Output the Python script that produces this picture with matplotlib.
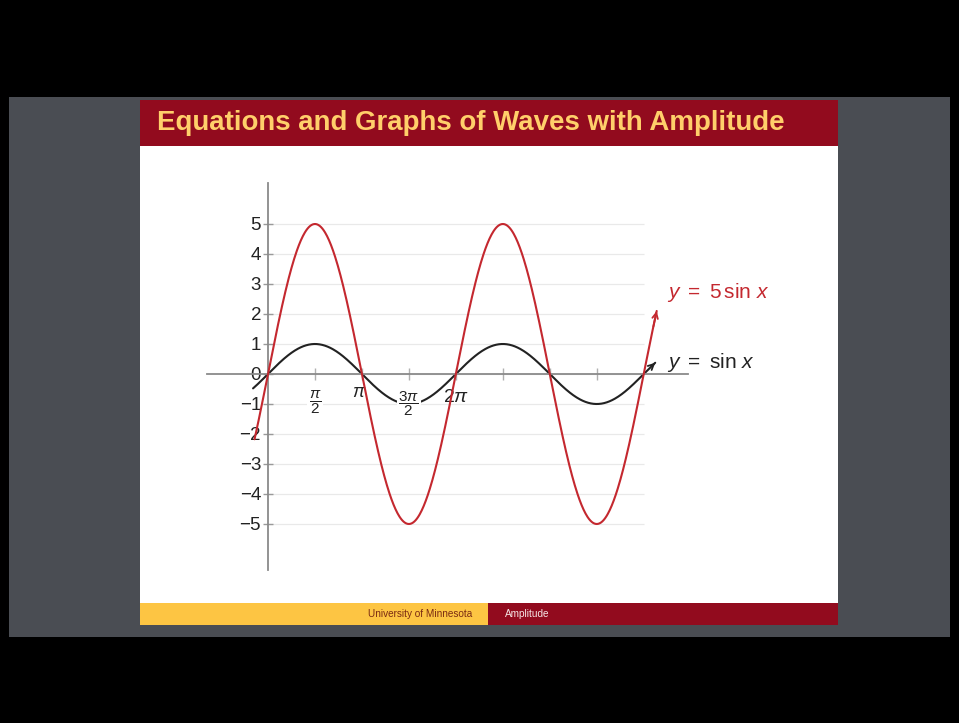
import numpy as np
import matplotlib
matplotlib.use("Agg")
import matplotlib.pyplot as plt
from matplotlib.patches import Rectangle

plt.rcParams["font.family"] = ["Liberation Sans", "DejaVu Sans"]
plt.rcParams["mathtext.fontset"] = "custom"
plt.rcParams["mathtext.rm"] = "Liberation Sans"
plt.rcParams["mathtext.it"] = "Liberation Sans:italic"
plt.rcParams["mathtext.sf"] = "Liberation Sans"

# curves: y = A sin x, each drawn from x_start to x_end (radians)
amplitudes = [1, 5]
x_start = [-0.5, -0.45]
x_end = [12.95, 13.0]
curve_colors = ["#222222", "#c4282f"]
curve_labels = [r"$y\ =\ \sin\,x$", r"$y\ =\ 5\,\sin\,x$"]
label_pos = [(13.34, 0.37), (13.34, 2.7)]

y_ticks = [-5, -4, -3, -2, -1, 0, 1, 2, 3, 4, 5]
x_ticks = [np.pi / 2 * k for k in range(1, 8)]
x_tick_labels = [r"$\dfrac{\pi}{2}$", r"$\pi$", r"$\dfrac{3\pi}{2}$", r"$2\pi$"]
x_label_pos = [(np.pi / 2, -0.95), (3.05, -0.62), (3 * np.pi / 2, -1.0), (6.28, -0.78)]
x_label_size = [11, 13, 11, 14]
x_label_box = [True, False, True, False]

W, H = 959, 723
fig = plt.figure(figsize=(W / 100, H / 100), dpi=100)
fig.patch.set_facecolor("black")


def px_rect(x0, y0, x1, y1, color):
    # rectangle given in pixel coords (origin top-left)
    fig.patches.append(Rectangle((x0 / W, 1 - y1 / H), (x1 - x0) / W, (y1 - y0) / H,
                                 transform=fig.transFigure, facecolor=color,
                                 edgecolor="none", zorder=-10))


px_rect(9, 97, 950, 637, "#4a4d53")
px_rect(140, 100, 838, 625, "white")
px_rect(140, 100, 838, 146, "#920b1e")
px_rect(140, 603, 488, 625, "#fdc543")
px_rect(488, 603, 838, 625, "#920b1e")

title = fig.text(157 / W, 1 - 123 / H, "Equations and Graphs of Waves with Amplitude",
                 color="#ffcf6a", fontsize=20, fontweight="bold", va="center", ha="left")
r = fig.canvas.get_renderer()
w = title.get_window_extent(renderer=r).width
title.set_fontsize(20 * 626 / w)

fig.text(472 / W, 1 - 614 / H, "University of Minnesota", color="#7a2a12",
         fontsize=7.2, ha="right", va="center")
fig.text(505 / W, 1 - 614 / H, "Amplitude", color="#f6e6e6",
         fontsize=7.2, ha="left", va="center")

# plot area: origin at pixel (268, 374), 29.9 px per radian, 30 px per unit
ox, oy, sx, sy = 268, 374, 29.9, 30.0
L, R, T, B = 190, 800, 170, 590
ax = fig.add_axes([L / W, 1 - B / H, (R - L) / W, (B - T) / H])
ax.set_zorder(5)
ax.set_xlim((L - ox) / sx, (R - ox) / sx)
ax.set_ylim((oy - B) / sy, (oy - T) / sy)
ax.set_facecolor("none")

for s in ["top", "right"]:
    ax.spines[s].set_visible(False)
ax.spines["left"].set_position(("data", 0))
ax.spines["bottom"].set_position(("data", 0))
ax.spines["left"].set_bounds((oy - 570) / sy, (oy - 183) / sy)
ax.spines["bottom"].set_bounds((207 - ox) / sx, (688 - ox) / sx)
for s in ["left", "bottom"]:
    ax.spines[s].set_color("#8a8a8a")
    ax.spines[s].set_linewidth(1.3)

ax.set_yticks(y_ticks)
ax.set_yticklabels([str(v).replace("-", "\u2212") for v in y_ticks])
ax.tick_params(axis="y", direction="inout", length=7, width=1, color="#9a9a9a",
               labelsize=13.5, labelcolor="#222222", pad=1.5)
ax.set_xticks(x_ticks)
ax.set_xticklabels([])
ax.tick_params(axis="x", direction="inout", length=8, width=1, color="#b0b0b0")

ax.hlines(y_ticks, 0, 4 * np.pi, color="#e9e9e9", lw=0.9, zorder=0.5)

for a, x0, x1, c, z in zip(amplitudes, x_start, x_end, curve_colors, [2, 4]):
    xs = np.linspace(x0, x1, 600)
    ys = a * np.sin(xs)
    ax.plot(xs, ys, color=c, lw=1.5, zorder=z, solid_capstyle="round")
    ax.annotate("", xy=(xs[-1], ys[-1]), xytext=(xs[-6], ys[-6]),
                arrowprops=dict(arrowstyle="->", color=c, lw=1.3,
                                mutation_scale=10, shrinkA=0, shrinkB=0),
                zorder=z)

for (lx, ly), txt, c in zip(label_pos, curve_labels, curve_colors):
    ax.text(lx, ly, txt, color=c, fontsize=15, ha="left", va="center", zorder=5)

for (tx, ty), txt, fs, boxed in zip(x_label_pos, x_tick_labels, x_label_size, x_label_box):
    box = dict(facecolor="white", edgecolor="none", pad=1.0) if boxed else None
    ax.text(tx, ty, txt, fontsize=fs, color="#222222", ha="center", va="center",
            zorder=3, bbox=box)

fig.savefig("out.png", dpi=100, facecolor=fig.get_facecolor())
